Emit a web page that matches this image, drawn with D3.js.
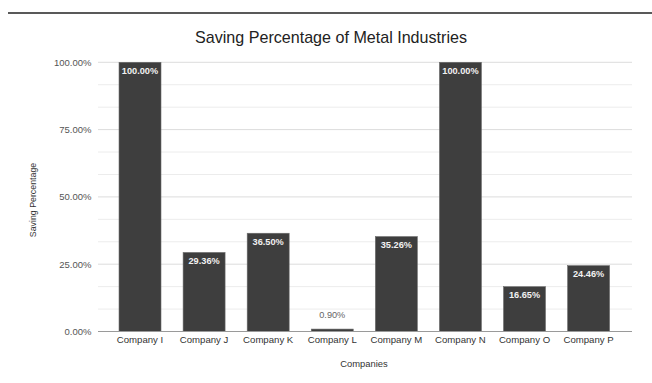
<!DOCTYPE html>
<html>
<head>
<meta charset="utf-8">
<script src="https://cdn.jsdelivr.net/npm/d3@7"></script>
<style>
  html, body { margin: 0; padding: 0; background: #fff; }
  svg { display: block; font-family: "Liberation Sans", Arial, sans-serif; }
</style>
</head>
<body>
<svg id="chart" width="652" height="383"></svg>
<script>
// Saving percentage per company
const companies = ["Company I", "Company J", "Company K", "Company L", "Company M", "Company N", "Company O", "Company P"];
const savings = [100.00, 29.36, 36.50, 0.90, 35.26, 100.00, 16.65, 24.46];
const yTicks = [0, 25, 50, 75, 100];
const yMinorTicks = [8.333, 16.667, 33.333, 41.667, 58.333, 66.667, 83.333, 91.667];

const svg = d3.select("#chart");
const W = 652, H = 383;
const plotLeft = 98, plotRight = 632, plotTop = 62.3, plotBottom = 331.5;

// Top rule
svg.append("line")
  .attr("x1", 8).attr("x2", W).attr("y1", 13).attr("y2", 13)
  .attr("stroke", "#222").attr("stroke-width", 1.5);

// Title
svg.append("text")
  .attr("x", 331).attr("y", 43)
  .attr("text-anchor", "middle")
  .attr("font-size", 16.1)
  .attr("fill", "#222")
  .text("Saving Percentage of Metal Industries");

const x = d3.scaleBand()
  .domain(companies)
  .range([108, 620.6])
  .paddingInner(0.345)
  .paddingOuter(0.172);

const y = d3.scaleLinear().domain([0, 100]).range([plotBottom, plotTop]);

// Minor gridlines
svg.append("g").selectAll("line").data(yMinorTicks).join("line")
  .attr("x1", plotLeft).attr("x2", plotRight)
  .attr("y1", d => y(d)).attr("y2", d => y(d))
  .attr("stroke", "#ececec").attr("stroke-width", 1);

// Major gridlines
svg.append("g").selectAll("line").data(yTicks.filter(d => d > 0)).join("line")
  .attr("x1", plotLeft).attr("x2", plotRight)
  .attr("y1", d => y(d)).attr("y2", d => y(d))
  .attr("stroke", "#dcdcdc").attr("stroke-width", 1);

// Y axis labels
const yAxis = d3.axisLeft(y).tickValues(yTicks).tickSize(0).tickPadding(0)
  .tickFormat(d => d.toFixed(2) + "%");
const gy = svg.append("g").attr("transform", `translate(91.5,0)`).call(yAxis);
gy.select(".domain").remove();
gy.selectAll("text").attr("font-size", 9.5).attr("fill", "#555")
  .attr("font-family", "'Liberation Sans', Arial, sans-serif");

// Bars
const barColor = "#3e3e3e";
svg.append("g").selectAll("rect").data(savings).join("rect")
  .attr("x", (d, i) => x(companies[i]))
  .attr("width", x.bandwidth())
  .attr("y", d => y(d))
  .attr("height", d => y(0) - y(d))
  .attr("fill", barColor)
  .attr("stroke", "#6a6a6a").attr("stroke-width", 0.6);

// Baseline
svg.append("line")
  .attr("x1", plotLeft).attr("x2", plotRight)
  .attr("y1", y(0)).attr("y2", y(0))
  .attr("stroke", "#9a9a9a").attr("stroke-width", 1);

// Value labels
svg.append("g").selectAll("text").data(savings).join("text")
  .attr("x", (d, i) => x(companies[i]) + x.bandwidth() / 2)
  .attr("y", d => (y(0) - y(d) > 16) ? y(d) + 11.6 : y(d) - 11)
  .attr("text-anchor", "middle")
  .attr("font-size", 9.2)
  .attr("font-weight", d => (y(0) - y(d) > 16) ? "bold" : "normal")
  .attr("fill", d => (y(0) - y(d) > 16) ? "#f2f2f2" : "#666")
  .text(d => d.toFixed(2) + "%");

// X axis labels
const xAxis = d3.axisBottom(x).tickSize(0).tickPadding(0);
const gx = svg.append("g").attr("transform", `translate(0,${y(0) + 5})`).call(xAxis);
gx.select(".domain").remove();
gx.selectAll("text").attr("font-size", 9.6).attr("fill", "#333")
  .attr("font-family", "'Liberation Sans', Arial, sans-serif");

// Axis titles
svg.append("text")
  .attr("x", 364).attr("y", 366.5)
  .attr("text-anchor", "middle")
  .attr("font-size", 9.4).attr("fill", "#333")
  .text("Companies");

svg.append("text")
  .attr("transform", "translate(36,200) rotate(-90)")
  .attr("text-anchor", "middle")
  .attr("font-size", 8.8).attr("fill", "#333")
  .text("Saving Percentage");
</script>
</body>
</html>
